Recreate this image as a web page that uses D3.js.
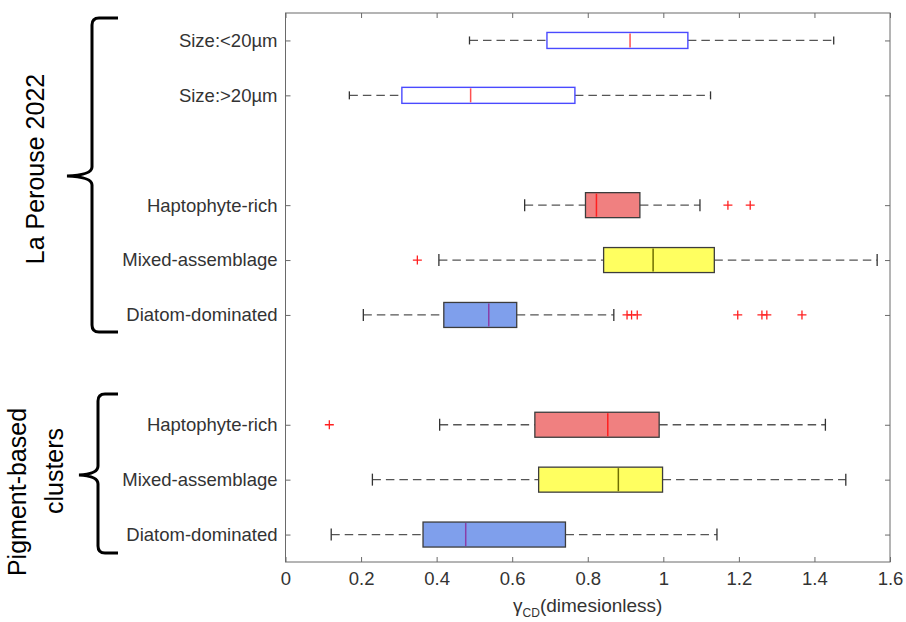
<!DOCTYPE html>
<html>
<head>
<meta charset="utf-8">
<script src="https://cdn.jsdelivr.net/npm/d3@7"></script>
<style>
  html, body { margin: 0; padding: 0; background: #fff; }
  svg { display: block; font-family: "Liberation Sans", Arial, sans-serif; }
</style>
</head>
<body>
<svg id="chart" width="906" height="622"></svg>
<script>
// Box-plot statistics of gamma_CD for each group (top to bottom)
const categoryLabels = ["Size:<20µm", "Size:>20µm", "Haptophyte-rich", "Mixed-assemblage", "Diatom-dominated",
                        "Haptophyte-rich", "Mixed-assemblage", "Diatom-dominated"];
const categorySlots  = [1, 2, 4, 5, 6, 8, 9, 10];
const whiskerLow  = [0.487, 0.169, 0.633, 0.406, 0.206, 0.408, 0.230, 0.121];
const quartile1   = [0.692, 0.308, 0.794, 0.842, 0.419, 0.660, 0.670, 0.364];
const medians     = [0.912, 0.490, 0.823, 0.973, 0.538, 0.853, 0.881, 0.477];
const quartile3   = [1.065, 0.766, 0.938, 1.135, 0.612, 0.989, 0.998, 0.741];
const whiskerHigh = [1.451, 1.125, 1.097, 1.566, 0.869, 1.429, 1.483, 1.142];
const outliers = [
  [], [], [1.171, 1.230], [0.349],
  [0.904, 0.916, 0.931, 1.197, 1.261, 1.274, 1.367],
  [0.116], [], []
];
const xTickValues = [0, 0.2, 0.4, 0.6, 0.8, 1, 1.2, 1.4, 1.6];
const xTickLabels = ["0", "0.2", "0.4", "0.6", "0.8", "1", "1.2", "1.4", "1.6"];

// Drawing styles for each box
const boxKind     = ["outline", "outline", "filled", "filled", "filled", "filled", "filled", "filled"];
const boxFill     = ["none", "none", "#f08080", "#ffff60", "#7f9fec", "#f08080", "#ffff60", "#7f9fec"];
const medianColor = ["#ff5050", "#ff5050", "#ff2020", "#6e6e00", "#8a3ea8", "#ff2020", "#6e6e00", "#8a3ea8"];

const svg = d3.select("#chart");
const plotLeft = 285.5, plotRight = 890, plotTop = 13, plotBottom = 562;

const x = d3.scaleLinear().domain([0, 1.6]).range([plotLeft, plotRight]);
const y = d3.scaleLinear().domain([0.5, 10.5]).range([plotTop, plotBottom]);

const axisColor = "#6a6a6a";
const textColor = "#333333";

// Axes with inward ticks on all four sides
const gBottom = svg.append("g").attr("transform", `translate(0,${plotBottom})`)
  .call(d3.axisBottom(x).tickValues(xTickValues).tickSizeInner(-5).tickSizeOuter(0).tickPadding(10)
    .tickFormat((d, i) => xTickLabels[i]));
const gTop = svg.append("g").attr("transform", `translate(0,${plotTop})`)
  .call(d3.axisTop(x).tickValues(xTickValues).tickSizeInner(-5).tickSizeOuter(0).tickFormat(""));
const gLeft = svg.append("g").attr("transform", `translate(${plotLeft},0)`)
  .call(d3.axisLeft(y).tickValues(categorySlots).tickSizeInner(-5).tickSizeOuter(0).tickPadding(8)
    .tickFormat((d, i) => categoryLabels[i]));
const gRight = svg.append("g").attr("transform", `translate(${plotRight},0)`)
  .call(d3.axisRight(y).tickValues(categorySlots).tickSizeInner(-5).tickSizeOuter(0).tickFormat(""));

[gBottom, gTop, gLeft, gRight].forEach(g => {
  g.select(".domain").remove();
  g.selectAll(".tick line").attr("stroke", axisColor).attr("stroke-width", 1);
  g.selectAll(".tick text").attr("fill", textColor).style("font-size", "18.5px")
    .style("font-family", "'Liberation Sans', Arial, sans-serif");
});

svg.append("rect")
  .attr("x", plotLeft).attr("y", plotTop)
  .attr("width", plotRight - plotLeft).attr("height", plotBottom - plotTop)
  .attr("fill", "none").attr("stroke", axisColor).attr("stroke-width", 1);

// Boxes
const rows = categorySlots.map((s, i) => ({
  slot: s, lo: whiskerLow[i], q1: quartile1[i], med: medians[i], q3: quartile3[i], hi: whiskerHigh[i],
  out: outliers[i], kind: boxKind[i], fill: boxFill[i], medColor: medianColor[i]
}));

const marks = svg.append("g");
rows.forEach(r => {
  const cy = y(r.slot);
  const h = r.kind === "outline" ? 16 : 25;
  const cap = r.kind === "outline" ? 8 : 12;
  const row = marks.append("g");

  // dashed whiskers
  [[r.lo, r.q1], [r.q3, r.hi]].forEach(([a, b]) => {
    row.append("line")
      .attr("x1", x(a)).attr("x2", x(b)).attr("y1", cy).attr("y2", cy)
      .attr("stroke", "#555").attr("stroke-width", 1.3).attr("stroke-dasharray", "8.5,5");
  });
  // whisker caps
  [r.lo, r.hi].forEach(v => {
    row.append("line")
      .attr("x1", x(v)).attr("x2", x(v)).attr("y1", cy - cap / 2).attr("y2", cy + cap / 2)
      .attr("stroke", "#333").attr("stroke-width", 1.3);
  });
  // box
  if (r.kind === "outline") {
    row.append("rect")
      .attr("x", x(r.q1)).attr("y", cy - h / 2).attr("width", x(r.q3) - x(r.q1)).attr("height", h)
      .attr("fill", "#fff").attr("stroke", "#4a4aff").attr("stroke-width", 1.4);
  } else {
    row.append("rect")
      .attr("x", x(r.q1)).attr("y", cy - h / 2).attr("width", x(r.q3) - x(r.q1)).attr("height", h)
      .attr("fill", r.fill).attr("stroke", "#3c3c3c").attr("stroke-width", 1.3);
  }
  // median
  row.append("line")
    .attr("x1", x(r.med)).attr("x2", x(r.med)).attr("y1", cy - h / 2 + 1).attr("y2", cy + h / 2 - 1)
    .attr("stroke", r.medColor).attr("stroke-width", 1.5);
  // outliers
  r.out.forEach(v => {
    const px = x(v), s = 4.5;
    row.append("path")
      .attr("d", `M${px - s},${cy}H${px + s}M${px},${cy - s}V${cy + s}`)
      .attr("stroke", "#ff2020").attr("stroke-width", 1.3).attr("fill", "none");
  });
});

// Curly braces grouping the categories
function bracePath(xv, yTop, yMid, yBot, xTip, xEnd) {
  const r = 7;
  return `M${xEnd},${yTop} L${xv + r},${yTop} Q${xv},${yTop} ${xv},${yTop + r}` +
         ` L${xv},${yMid - 9} Q${xv},${yMid - 1} ${xTip},${yMid}` +
         ` Q${xv},${yMid + 1} ${xv},${yMid + 9}` +
         ` L${xv},${yBot - r} Q${xv},${yBot} ${xv + r},${yBot} L${xEnd},${yBot}`;
}
svg.append("path").attr("d", bracePath(92, 18, 176, 332, 67, 118))
  .attr("fill", "none").attr("stroke", "#000").attr("stroke-width", 3);
svg.append("path").attr("d", bracePath(98, 394, 475, 553, 79, 118))
  .attr("fill", "none").attr("stroke", "#000").attr("stroke-width", 3);

svg.append("text")
  .attr("transform", "translate(44,169) rotate(-90)")
  .attr("text-anchor", "middle").attr("fill", "#000").style("font-size", "25px")
  .text("La Perouse 2022");

svg.append("text")
  .attr("transform", "translate(26,492) rotate(-90)")
  .attr("text-anchor", "middle").attr("fill", "#000").style("font-size", "25px")
  .text("Pigment-based");
svg.append("text")
  .attr("transform", "translate(63,471) rotate(-90)")
  .attr("text-anchor", "middle").attr("fill", "#000").style("font-size", "25px")
  .text("clusters");

// x-axis title
const xt = svg.append("text")
  .attr("x", (plotLeft + plotRight) / 2).attr("y", 612)
  .attr("text-anchor", "middle").attr("fill", textColor).style("font-size", "19px");
xt.append("tspan").text("γ");
xt.append("tspan").attr("dy", 5).style("font-size", "12px").text("CD");
xt.append("tspan").attr("dy", -5).text("(dimesionless)");
</script>
</body>
</html>
